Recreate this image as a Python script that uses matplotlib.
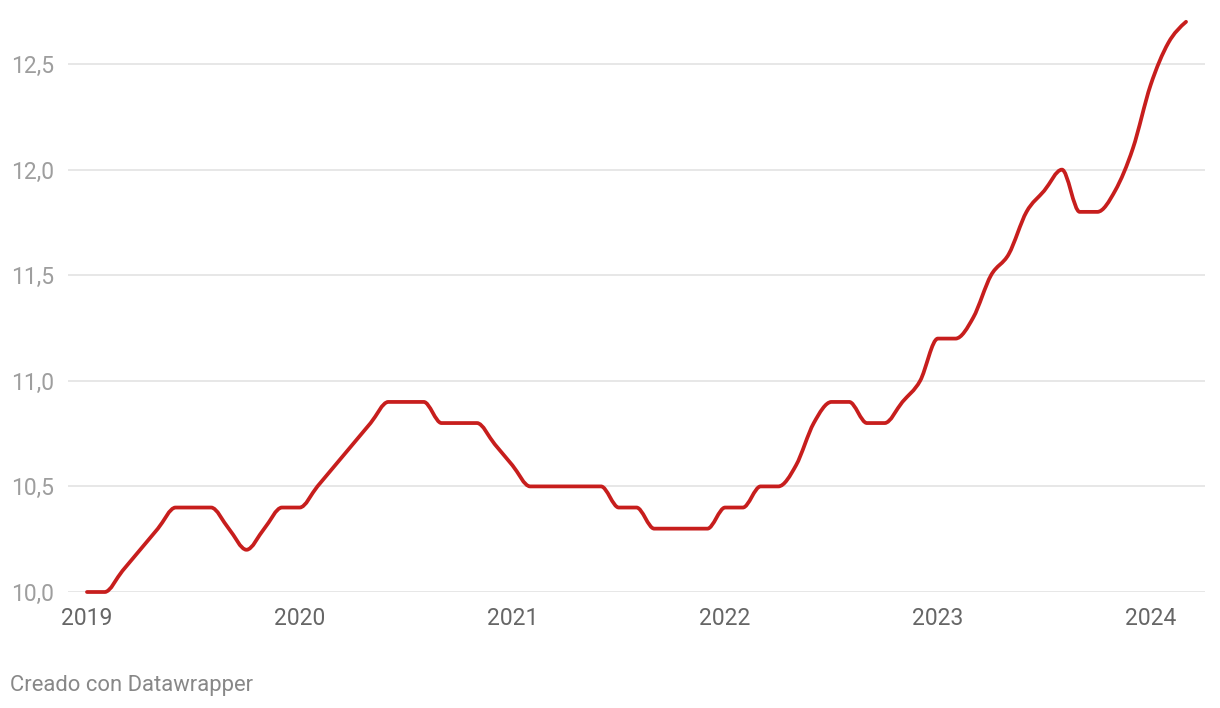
import numpy as np
import matplotlib
matplotlib.use("Agg")
import matplotlib.pyplot as plt
from matplotlib.path import Path
from matplotlib.patches import PathPatch

plt.rcParams['font.family'] = ['Roboto', 'DejaVu Sans']

# monthly values, Jan 2019 .. Mar 2024
values = [10.0, 10.0, 10.1, 10.2, 10.3, 10.4, 10.4, 10.4, 10.3, 10.2, 10.3, 10.4,   # 2019
          10.4, 10.5, 10.6, 10.7, 10.8, 10.9, 10.9, 10.9, 10.8, 10.8, 10.8, 10.7,   # 2020
          10.6, 10.5, 10.5, 10.5, 10.5, 10.5, 10.4, 10.4, 10.3, 10.3, 10.3, 10.3,   # 2021
          10.4, 10.4, 10.5, 10.5, 10.6, 10.8, 10.9, 10.9, 10.8, 10.8, 10.9, 11.0,   # 2022
          11.2, 11.2, 11.3, 11.5, 11.6, 11.8, 11.9, 12.0, 11.8, 11.8, 11.9, 12.1,   # 2023
          12.4, 12.6, 12.7]                                                         # 2024
year_labels = ['2019', '2020', '2021', '2022', '2023', '2024']
y_ticks = [10.0, 10.5, 11.0, 11.5, 12.0, 12.5]

x = np.arange(len(values), dtype=float)
y = np.array(values)


def monotone_slopes(x, y):
    # same slope rule as d3 curveMonotoneX
    n = len(x)
    t = np.zeros(n)
    for i in range(1, n - 1):
        h0 = x[i] - x[i - 1]
        h1 = x[i + 1] - x[i]
        s0 = (y[i] - y[i - 1]) / h0
        s1 = (y[i + 1] - y[i]) / h1
        p = (s0 * h1 + s1 * h0) / (h0 + h1)
        t[i] = (np.sign(s0) + np.sign(s1)) * min(abs(s0), abs(s1), 0.5 * abs(p))
    h = x[1] - x[0]
    t[0] = (3 * (y[1] - y[0]) / h - t[1]) / 2
    h = x[-1] - x[-2]
    t[-1] = (3 * (y[-1] - y[-2]) / h - t[-2]) / 2
    return t


t = monotone_slopes(x, y)
verts = [(x[0], y[0])]
codes = [Path.MOVETO]
for i in range(len(x) - 1):
    dx = (x[i + 1] - x[i]) / 3
    verts += [(x[i] + dx, y[i] + dx * t[i]),
              (x[i + 1] - dx, y[i + 1] - dx * t[i + 1]),
              (x[i + 1], y[i + 1])]
    codes += [Path.CURVE4] * 3

fig = plt.figure(figsize=(12.2, 7.08), dpi=100)
ax = fig.add_axes([68 / 1220, 1 - 592 / 708, (1205 - 68) / 1220, (592 - 21.8) / 708])

patch = PathPatch(Path(verts, codes), facecolor='none', edgecolor='#c71e1d',
                  linewidth=2.7, capstyle='round', joinstyle='round', clip_on=False, zorder=3)
ax.add_patch(patch)

ax.set_xlim(-1.07, len(values) - 1 + 1.07)
ax.set_ylim(10.0, 12.7)

ax.set_yticks(y_ticks)
ax.set_yticklabels([f"{v:.1f}".replace('.', ',') for v in y_ticks])
ax.set_xticks(np.arange(0, len(values), 12))
ax.set_xticklabels(year_labels)

ax.grid(axis='y', color='#e3e3e3', linewidth=1.2)
ax.set_axisbelow(True)
for s in ax.spines.values():
    s.set_visible(False)
ax.tick_params(axis='y', length=0, pad=10, labelsize=16.5, labelcolor='#9e9e9e')
ax.tick_params(axis='x', length=0, pad=11, labelsize=16.5, labelcolor='#666666')

fig.text(10 / 1220, 1 - 685 / 708, 'Creado con Datawrapper', fontsize=15.8,
         color='#888888', ha='left', va='center')

fig.savefig('out.png', dpi=100, facecolor='white')
